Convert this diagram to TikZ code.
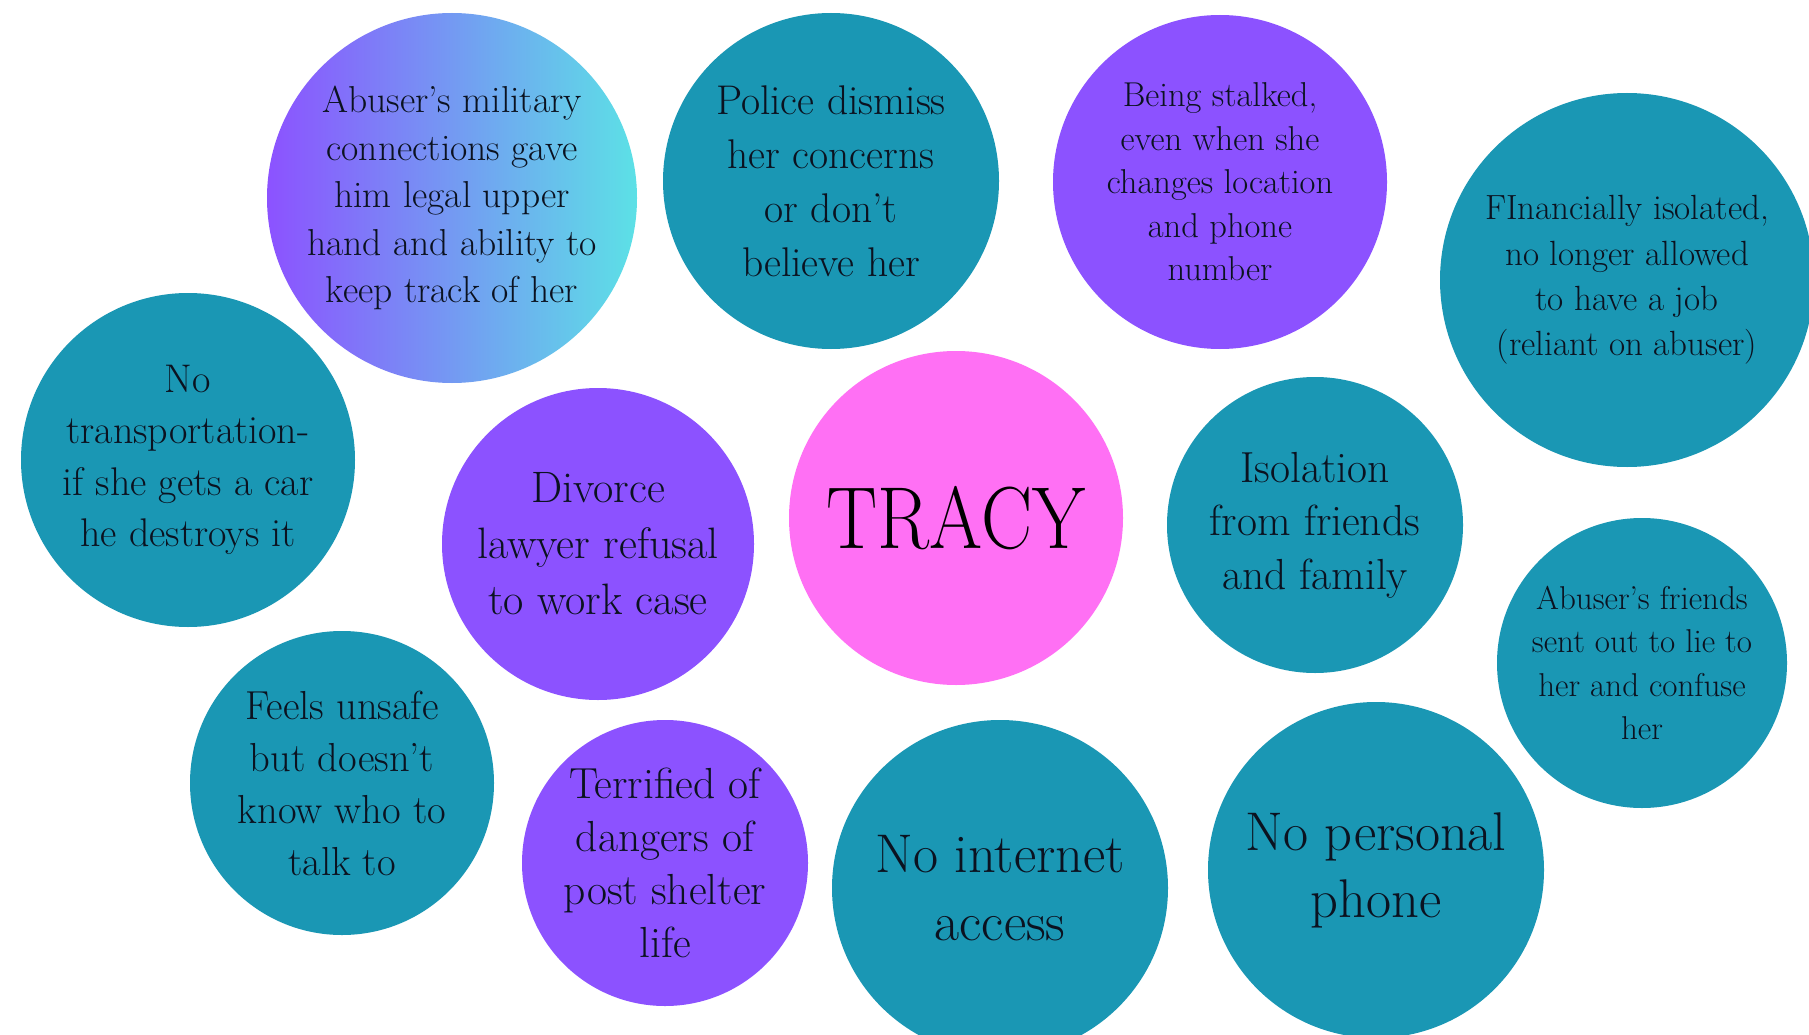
\documentclass[tikz,border=0pt]{standalone}
\usepackage{graphicx}
\definecolor{teal1}{HTML}{1A97B4}
\definecolor{purp}{HTML}{8C52FF}
\definecolor{cyan1}{HTML}{5CE1E6}
\definecolor{pink1}{HTML}{FF70F4}
\definecolor{ink}{HTML}{0B1220}
\newcommand\bfsz[2]{\fontsize{#1}{#2}\selectfont}
\begin{document}
\begin{tikzpicture}[x=1pt,y=-1pt,
  bub/.style={circle,inner sep=0pt,align=center,text=ink},
  tealb/.style={bub,fill=teal1},
  purpb/.style={bub,fill=purp}]
\useasboundingbox (0,0) rectangle (1809,1035);
\fill[white] (0,0) rectangle (1809,1035);
\begin{scope}
\clip (0,0) rectangle (1809,1035);
\node[bub,left color=purp,right color=cyan1,minimum size=370pt,font=\bfsz{37.5}{47.5}] (military) at (452,198)
  {Abuser’s military\\connections gave\\him legal upper\\hand and ability to\\keep track of her};
\node[tealb,minimum size=336pt,font=\bfsz{41.5}{54}] (police) at (831,181)
  {Police dismiss\\her concerns\\or don’t\\believe her};
\node[purpb,minimum size=334pt,font=\bfsz{34.5}{43.5}] (stalked) at (1220,182)
  {Being stalked,\\even when she\\changes location\\and phone\\number};
\node[tealb,minimum size=374pt,font=\bfsz{35}{45.4}] (financial) at (1627,280)
  {FInancially isolated,\\no longer allowed\\to have a job\\(reliant on abuser)};
\node[tealb,minimum size=334pt,font=\bfsz{40}{51.5}] (transport) at (188,460)
  {No\\transportation-\\if she gets a car\\he destroys it};
\node[purpb,minimum size=312pt,font=\bfsz{44}{56}] (divorce) at (598,544)
  {Divorce\\lawyer refusal\\to work case};
\node[bub,fill=pink1,minimum size=334pt,text=black] (tracy) at (956,518)
  {\scalebox{0.87}[1]{\bfsz{88}{88}TRACY}};
\node[tealb,minimum size=296pt,font=\bfsz{43.5}{53.5}] (isolation) at (1315,525)
  {Isolation\\from friends\\and family};
\node[tealb,minimum size=290pt,font=\bfsz{33}{43.5}] (friends) at (1642,663)
  {Abuser’s friends\\sent out to lie to\\her and confuse\\her};
\node[tealb,minimum size=304pt,font=\bfsz{40.5}{52}] (unsafe) at (342,783)
  {Feels unsafe\\but doesn’t\\know who to\\talk to};
\node[purpb,minimum size=286pt,font=\bfsz{43.5}{53}] (terrified) at (665,863)
  {Terrified of\\dangers of\\post shelter\\life};
\node[tealb,minimum size=336pt,font=\bfsz{54.5}{68}] (internet) at (1000,888)
  {No internet\\access};
\node[tealb,minimum size=336pt,font=\bfsz{54.5}{67}] (phone) at (1376,870)
  {No personal\\phone};
\end{scope}
\end{tikzpicture}
\end{document}
